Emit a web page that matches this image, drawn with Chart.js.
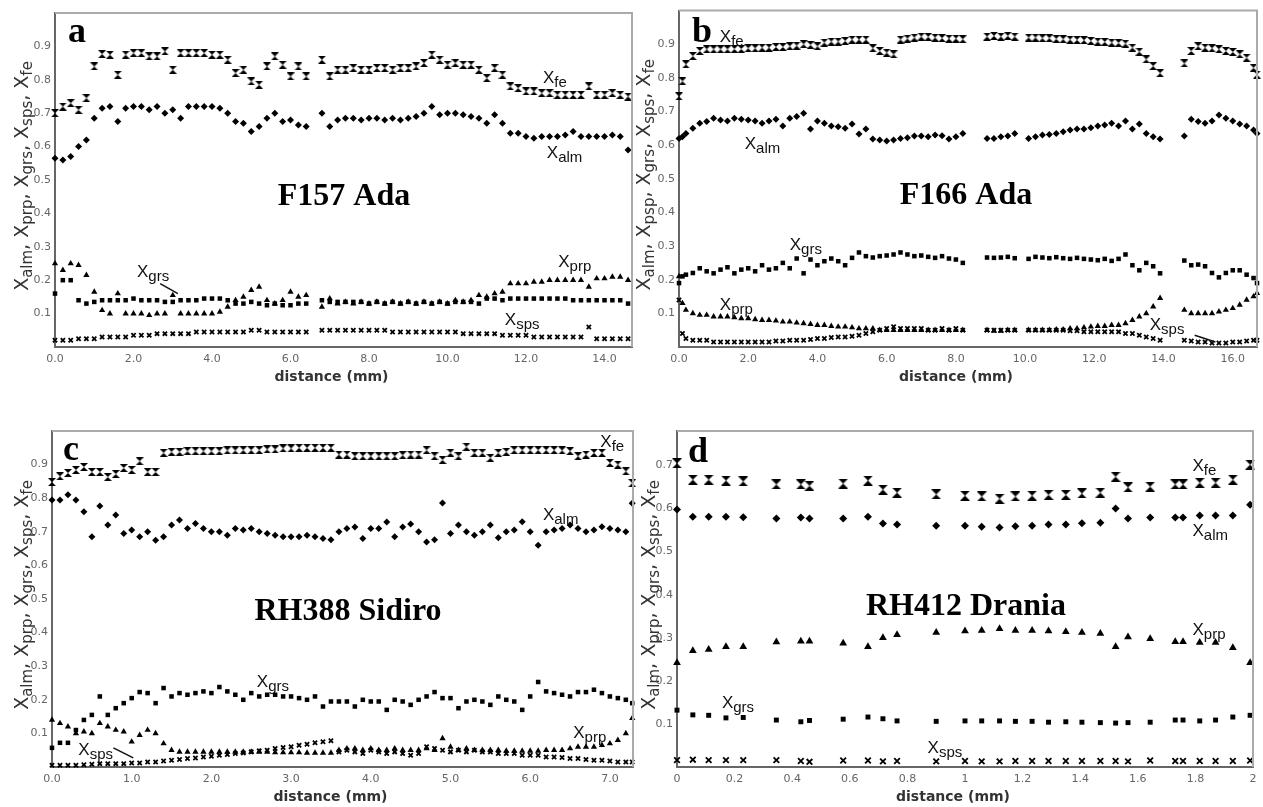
<!DOCTYPE html>
<html>
<head>
<meta charset="utf-8">
<script src="https://cdn.jsdelivr.net/npm/chart.js"></script>
<style>
  body { margin: 0; background: #fff; }
  canvas { position: absolute; left: 0; top: 0; }
</style>
</head>
<body>
<canvas id="pa" width="1263" height="807"></canvas>
<canvas id="pb" width="1263" height="807"></canvas>
<canvas id="pc" width="1263" height="807"></canvas>
<canvas id="pd" width="1263" height="807"></canvas>
<script>
// ---- panel a: F157 Ada ----
const aDist = [0.0,0.2,0.4,0.6,0.8,1.0,1.2,1.4,1.6,1.8,2.0,2.2,2.4,2.6,2.8,3.0,3.2,3.4,3.6,3.8,4.0,4.2,4.4,4.6,4.8,5.0,5.2,5.4,5.6,5.8,6.0,6.2,6.4,
  6.8,7.0,7.2,7.4,7.6,7.8,8.0,8.2,8.4,8.6,8.8,9.0,9.2,9.4,9.6,9.8,10.0,10.2,10.4,10.6,10.8,11.0,11.2,11.4,11.6,11.8,12.0,12.2,12.4,12.6,12.8,13.0,13.2,13.4,13.6,13.8,14.0,14.2,14.4,14.6];
const aFe = [.70,.72,.73,.71,.745,.84,.877,.875,.815,.875,.88,.88,.87,.87,.885,.83,.88,.88,.88,.88,.875,.875,.86,.82,.83,.795,.785,.84,.87,.845,.81,.84,.81,
  .86,.81,.83,.83,.835,.83,.83,.835,.835,.83,.835,.835,.84,.85,.875,.86,.845,.85,.845,.845,.83,.805,.835,.815,.78,.775,.765,.765,.76,.76,.755,.755,.755,.755,.78,.755,.755,.76,.755,.75];
const aAlm = [.565,.56,.57,.60,.62,.685,.715,.72,.675,.715,.72,.72,.71,.72,.70,.71,.685,.72,.72,.72,.72,.715,.70,.675,.67,.645,.66,.685,.70,.675,.68,.665,.66,
  .70,.66,.68,.685,.685,.68,.685,.685,.68,.685,.68,.685,.69,.70,.72,.695,.70,.70,.695,.69,.685,.67,.695,.67,.64,.64,.63,.625,.63,.63,.63,.635,.645,.63,.63,.63,.63,.635,.63,.59];
const aGrs = [.16,.20,.20,.14,.13,.135,.14,.14,.14,.14,.145,.14,.14,.14,.135,.135,.14,.14,.14,.145,.145,.145,.14,.13,.13,.135,.13,.125,.13,.125,.125,.13,.13,
  .14,.135,.135,.135,.135,.135,.13,.135,.13,.135,.13,.135,.13,.135,.13,.135,.13,.135,.135,.135,.13,.145,.145,.14,.145,.145,.145,.145,.145,.145,.145,.145,.14,.14,.14,.14,.14,.14,.14,.13];
const aPrp = [.25,.23,.25,.245,.215,.165,.11,.10,.16,.10,.10,.10,.095,.10,.10,.155,.10,.10,.10,.10,.10,.105,.12,.14,.15,.17,.18,.14,.13,.14,.165,.15,.155,
  .12,.145,.13,.135,.13,.135,.13,.135,.13,.135,.13,.135,.13,.135,.13,.135,.13,.14,.135,.14,.155,.15,.16,.165,.19,.19,.19,.195,.195,.20,.20,.20,.20,.20,.18,.205,.205,.21,.21,.20];
const aSps = [.02,.02,.02,.025,.025,.025,.03,.03,.03,.03,.035,.035,.035,.04,.04,.04,.04,.04,.045,.045,.045,.045,.045,.045,.045,.05,.05,.045,.045,.045,.045,.045,.045,
  .05,.05,.05,.05,.05,.05,.05,.05,.05,.045,.045,.045,.045,.045,.045,.045,.045,.045,.04,.04,.04,.04,.04,.035,.035,.035,.035,.03,.03,.03,.03,.03,.03,.03,.06,.025,.025,.025,.025,.025];

// ---- panel b: F166 Ada ----
const bDist = [0.0,0.1,0.2,0.4,0.6,0.8,1.0,1.2,1.4,1.6,1.8,2.0,2.2,2.4,2.6,2.8,3.0,3.2,3.4,3.6,3.8,4.0,4.2,4.4,4.6,4.8,5.0,5.2,5.4,5.6,5.8,6.0,6.2,6.4,6.6,6.8,7.0,7.2,7.4,7.6,7.8,8.0,8.2,
  8.9,9.1,9.3,9.5,9.7,
  10.1,10.3,10.5,10.7,10.9,11.1,11.3,11.5,11.7,11.9,12.1,12.3,12.5,12.7,12.9,13.1,13.3,13.5,13.7,13.9,
  14.6,14.8,15.0,15.2,15.4,15.6,15.8,16.0,16.2,16.4,16.6,16.7];
const bFe = [.745,.79,.84,.865,.88,.885,.885,.885,.885,.886,.886,.888,.888,.89,.89,.892,.892,.894,.896,.90,.898,.894,.905,.908,.908,.91,.914,.914,.914,.888,.88,.875,.87,.914,.917,.92,.923,.922,.92,.918,.917,.917,.915,
  .923,.925,.923,.925,.923,
  .92,.92,.918,.918,.916,.915,.914,.913,.912,.91,.908,.907,.905,.904,.902,.89,.878,.855,.835,.814,
  .843,.88,.894,.89,.888,.885,.88,.877,.87,.86,.83,.81];
const bAlm = [.62,.625,.635,.65,.665,.67,.68,.675,.672,.68,.677,.675,.672,.665,.672,.677,.657,.68,.685,.695,.648,.672,.665,.657,.655,.65,.663,.633,.648,.618,.615,.612,.615,.62,.622,.627,.627,.625,.63,.628,.618,.625,.635,
  .62,.62,.625,.627,.635,
  .62,.625,.63,.632,.635,.64,.645,.648,.648,.652,.657,.66,.665,.657,.672,.648,.663,.635,.625,.618,
  .627,.677,.67,.665,.672,.69,.68,.672,.663,.657,.645,.635];
const bGrs = [.19,.21,.215,.22,.234,.225,.219,.23,.237,.219,.23,.234,.225,.243,.23,.234,.25,.234,.263,.219,.26,.243,.255,.263,.255,.243,.265,.281,.27,.266,.27,.272,.275,.281,.275,.27,.272,.268,.265,.27,.263,.26,.25,
  .266,.265,.266,.268,.264,
  .262,.268,.266,.264,.267,.264,.262,.265,.262,.26,.258,.262,.256,.262,.275,.243,.228,.25,.24,.219,
  .257,.243,.245,.24,.22,.207,.22,.228,.228,.215,.205,.19];
const bPrp = [.21,.13,.11,.10,.095,.095,.09,.09,.09,.088,.085,.085,.082,.08,.08,.078,.075,.075,.072,.07,.068,.065,.065,.062,.06,.06,.058,.055,.055,.055,.05,.05,.05,.05,.05,.05,.05,.05,.05,.05,.05,.05,.05,
  .05,.048,.048,.05,.05,
  .05,.05,.05,.05,.052,.052,.055,.055,.058,.06,.062,.062,.065,.065,.07,.08,.09,.10,.12,.145,
  .11,.10,.10,.10,.10,.105,.11,.115,.125,.14,.15,.16];
const bSps = [.14,.04,.025,.02,.02,.02,.015,.015,.015,.015,.015,.015,.015,.015,.015,.018,.018,.02,.02,.02,.022,.025,.025,.028,.03,.03,.032,.035,.04,.045,.05,.055,.06,.055,.055,.055,.055,.05,.05,.055,.05,.055,.05,
  .05,.05,.05,.05,.05,
  .05,.05,.05,.05,.05,.05,.048,.048,.045,.045,.045,.045,.045,.045,.04,.04,.035,.03,.025,.02,
  .02,.018,.015,.015,.012,.012,.012,.015,.015,.018,.02,.02];

// ---- panel c: RH388 Sidiro ----
const cDist = [0.0,0.1,0.2,0.3,0.4,0.5,0.6,0.7,0.8,0.9,1.0,1.1,1.2,1.3,1.4,1.5,1.6,1.7,1.8,1.9,2.0,2.1,2.2,2.3,2.4,2.5,2.6,2.7,2.8,2.9,3.0,3.1,3.2,3.3,3.4,3.5,3.6,3.7,
  3.8,3.9,4.0,4.1,4.2,4.3,4.4,4.5,4.6,4.7,4.8,4.9,5.0,5.1,5.2,5.3,5.4,5.5,5.6,5.7,5.8,5.9,6.0,6.1,6.2,6.3,6.4,6.5,6.6,6.7,6.8,6.9,7.0,7.1,7.2,7.28];
const cFe = [.848,.865,.875,.884,.893,.878,.878,.863,.872,.89,.884,.91,.878,.878,.935,.938,.938,.94,.94,.94,.94,.94,.942,.942,.943,.943,.943,.945,.945,.948,.948,.95,.95,.95,.95,.95,.93,.93,
  .925,.925,.925,.925,.925,.925,.928,.93,.93,.943,.925,.914,.935,.925,.953,.935,.935,.92,.935,.938,.943,.943,.943,.943,.943,.943,.942,.94,.925,.93,.935,.935,.905,.90,.88,.845];
const cAlm = [.795,.795,.81,.795,.76,.685,.777,.72,.75,.695,.705,.685,.70,.675,.685,.72,.735,.71,.725,.71,.70,.70,.69,.71,.705,.71,.70,.695,.69,.685,.685,.685,.69,.685,.68,.676,.70,.71,
  .714,.68,.71,.71,.729,.685,.714,.723,.70,.67,.676,.786,.695,.72,.70,.69,.70,.72,.682,.70,.705,.73,.70,.66,.70,.705,.71,.72,.71,.70,.705,.715,.71,.705,.70,.785];
const cGrs = [.057,.072,.072,.11,.14,.155,.21,.155,.175,.19,.205,.223,.22,.19,.235,.21,.22,.215,.22,.225,.22,.238,.225,.215,.20,.22,.21,.215,.215,.21,.21,.205,.20,.21,.18,.195,.195,.195,
  .18,.20,.195,.195,.17,.20,.195,.185,.20,.21,.223,.205,.205,.175,.195,.20,.195,.185,.21,.20,.195,.17,.21,.253,.225,.22,.215,.21,.223,.223,.23,.22,.21,.205,.20,.19];
const cPrp = [.14,.13,.12,.10,.105,.10,.13,.12,.11,.105,.075,.095,.11,.10,.07,.05,.045,.045,.045,.045,.045,.045,.045,.045,.045,.045,.045,.045,.043,.043,.043,.043,.042,.042,.042,.042,.05,.055,
  .055,.05,.055,.05,.05,.055,.05,.05,.05,.055,.05,.085,.06,.05,.055,.05,.05,.05,.05,.048,.048,.048,.048,.048,.05,.05,.05,.055,.06,.06,.06,.065,.07,.08,.10,.145];
const cSps = [.005,.005,.005,.005,.007,.008,.01,.01,.01,.01,.012,.012,.015,.015,.018,.02,.022,.025,.027,.03,.032,.035,.037,.04,.042,.045,.048,.05,.055,.058,.06,.065,.068,.072,.075,.078,.045,.05,
  .045,.04,.05,.045,.04,.045,.04,.035,.04,.06,.055,.05,.045,.05,.045,.05,.045,.045,.04,.04,.04,.035,.035,.035,.03,.03,.028,.025,.025,.022,.02,.02,.018,.015,.015,.015];

// ---- panel d: RH412 Drania ----
const dDist = [0,0.055,0.11,0.17,0.23,0.345,0.43,0.46,0.577,0.663,0.715,0.764,0.9,1.0,1.058,1.12,1.175,1.233,1.29,1.35,1.406,1.47,1.523,1.566,1.643,1.73,1.757,1.815,1.87,1.93,1.99];
const dFe = [.705,.667,.667,.665,.663,.656,.656,.653,.658,.665,.644,.637,.633,.63,.628,.623,.628,.63,.632,.632,.635,.637,.674,.649,.651,.656,.656,.66,.66,.667,.702];
const dAlm = [.598,.581,.581,.581,.58,.577,.579,.577,.577,.581,.565,.563,.56,.56,.558,.556,.559,.56,.563,.563,.566,.567,.60,.577,.579,.579,.579,.584,.584,.584,.609];
const dPrp = [.242,.27,.273,.279,.279,.29,.292,.292,.287,.279,.30,.307,.312,.316,.317,.321,.317,.317,.316,.314,.312,.31,.279,.302,.298,.291,.291,.289,.289,.277,.242];
const dGrs = [.132,.121,.12,.114,.115,.109,.105,.108,.111,.116,.112,.107,.106,.107,.107,.107,.106,.106,.104,.105,.104,.103,.102,.103,.104,.109,.109,.107,.109,.116,.12];
const dSps = [.016,.017,.016,.016,.016,.016,.014,.012,.015,.015,.013,.014,.013,.014,.013,.013,.014,.014,.014,.014,.014,.014,.014,.013,.015,.014,.014,.014,.014,.014,.015];

const yTitleA = ['alm', 'prp', 'grs', 'sps', 'fe'];
const yTitleB = ['alm', 'psp', 'grs', 'sps', 'fe'];

// hourglass marker used for Xfe
function hourglass(s) {
  const c = document.createElement('canvas');
  c.width = s; c.height = s;
  const g = c.getContext('2d');
  g.fillStyle = '#000';
  g.beginPath();
  g.moveTo(0, 0); g.lineTo(s, 0); g.lineTo(0, s); g.lineTo(s, s); g.closePath();
  g.fill();
  return c;
}

const pts = (xs, ys) => xs.map((x, i) => ({ x: x, y: ys[i] }));

function drawX(ctx, x, y, sub, big, small, drop) {
  ctx.font = big + 'px "Liberation Sans"';
  ctx.fillText('X', x, y);
  const w = ctx.measureText('X').width;
  ctx.font = small + 'px "Liberation Sans"';
  ctx.fillText(sub, x + w, y + drop);
}

function drawYTitle(ctx, xBase, yMid, subs) {
  const big = '19px "DejaVu Sans"', small = '15px "DejaVu Sans"';
  const pieces = [];
  subs.forEach((s, i) => {
    pieces.push(['X', big, 0]);
    pieces.push([s, small, 4]);
    if (i < subs.length - 1) pieces.push([', ', big, 0]);
  });
  let total = 0;
  pieces.forEach(pc => { ctx.font = pc[1]; pc.push(ctx.measureText(pc[0]).width); total += pc[3]; });
  ctx.save();
  ctx.translate(xBase, yMid);
  ctx.rotate(-Math.PI / 2);
  ctx.textAlign = 'left';
  let pos = -total / 2;
  pieces.forEach(pc => { ctx.font = pc[1]; ctx.fillText(pc[0], pos, pc[2]); pos += pc[3]; });
  ctx.restore();
}

function textPlugin(p) {
  return {
    id: 'panelText',
    afterDraw(chart) {
      const ctx = chart.ctx, ca = chart.chartArea;
      const sx = chart.scales.x, sy = chart.scales.y;
      ctx.save();
      // frame top / right
      ctx.strokeStyle = '#aaa';
      ctx.lineWidth = 2;
      ctx.beginPath();
      ctx.moveTo(ca.left, ca.top); ctx.lineTo(ca.right, ca.top); ctx.lineTo(ca.right, ca.bottom);
      ctx.stroke();

      ctx.fillStyle = '#000';
      ctx.textBaseline = 'alphabetic';
      ctx.textAlign = 'left';
      ctx.font = 'bold 36px "Liberation Serif"';
      ctx.fillText(p.letter, p.letterPos[0], p.letterPos[1]);
      ctx.textAlign = 'center';
      ctx.font = 'bold 32px "Liberation Serif"';
      ctx.fillText(p.name, p.namePos[0], p.namePos[1]);

      // series labels
      ctx.textAlign = 'left';
      ctx.fillStyle = '#111';
      p.notes.forEach(n => {
        drawX(ctx, sx.getPixelForValue(n[0]), sy.getPixelForValue(n[1]), n[2], 17, 15, 4);
      });
      ctx.strokeStyle = '#111';
      ctx.lineWidth = 1.5;
      p.leaders.forEach(l => {
        ctx.beginPath();
        ctx.moveTo(sx.getPixelForValue(l[0]), sy.getPixelForValue(l[1]));
        ctx.lineTo(sx.getPixelForValue(l[2]), sy.getPixelForValue(l[3]));
        ctx.stroke();
      });

      // axis titles
      ctx.fillStyle = '#333';
      drawYTitle(ctx, ca.left - p.yGap, (ca.top + ca.bottom) / 2 - 4, p.yTitle);
      ctx.textAlign = 'center';
      ctx.textBaseline = 'middle';
      ctx.font = 'bold 14px "DejaVu Sans"';
      ctx.fillText('distance (mm)', (ca.left + ca.right) / 2 - 12, ca.bottom + 30);
      ctx.restore();
    }
  };
}

function makePanel(id, p) {
  const yW = 50, xH = 40;
  const big = p.big;
  const base = { backgroundColor: '#000', borderColor: '#000', clip: false };
  const sets = [
    Object.assign({ label: 'Xfe', data: pts(p.dist, p.fe), pointStyle: hourglass(big ? 10 : 8), pointRadius: 4 }, base),
    Object.assign({ label: 'Xalm', data: pts(p.dist, p.alm), pointStyle: 'rectRot', pointRadius: big ? 4 : 3.5, borderWidth: 0 }, base),
    Object.assign({ label: 'Xgrs', data: pts(p.dist, p.grs), pointStyle: 'rect', pointRadius: big ? 3.5 : 3.2, borderWidth: 0 }, base),
    Object.assign({ label: 'Xprp', data: pts(p.dist, p.prp), pointStyle: 'triangle', pointRadius: big ? 4.5 : 3.6, borderWidth: 0 }, base),
    Object.assign({ label: 'Xsps', data: pts(p.dist, p.sps), pointStyle: 'crossRot', pointRadius: big ? 4 : 3, borderWidth: 1.8 }, base)
  ];
  const tickFont = { family: 'DejaVu Sans', size: 11 };
  new Chart(document.getElementById(id), {
    type: 'scatter',
    data: { datasets: sets },
    options: {
      responsive: false,
      animation: false,
      events: [],
      layout: { padding: { left: p.box[0] - yW, top: p.box[1], right: 1263 - p.box[2], bottom: 807 - p.box[3] - xH } },
      plugins: { legend: { display: false }, tooltip: { enabled: false } },
      scales: {
        x: {
          type: 'linear', min: 0, max: p.xMax,
          afterFit: s => { s.height = xH; },
          grid: { display: false, drawTicks: false },
          border: { display: true, color: '#666', width: 2 },
          ticks: { stepSize: p.xStep, includeBounds: false, autoSkip: false, maxRotation: 0, padding: 6,
                   color: '#666', font: tickFont, callback: p.xFmt }
        },
        y: {
          type: 'linear', min: 0, max: p.yMax,
          afterFit: s => { s.width = yW; },
          grid: { display: false, drawTicks: false },
          border: { display: true, color: '#666', width: 2 },
          ticks: { stepSize: 0.1, includeBounds: false, autoSkip: false, padding: 4,
                   color: '#666', font: tickFont,
                   callback: v => (v > 0.001 && v < 0.999) ? v.toFixed(1) : '' }
        }
      }
    },
    plugins: [textPlugin(p)]
  });
}

const fmt1 = v => v.toFixed(1);
const fmtD = v => String(+v.toFixed(1));

makePanel('pa', {
  dist: aDist, fe: aFe, alm: aAlm, grs: aGrs, prp: aPrp, sps: aSps,
  box: [55, 13, 632, 347], xMax: 14.7, xStep: 2, yMax: 1, xFmt: fmt1, big: false,
  letter: 'a', letterPos: [68, 42], name: 'F157 Ada', namePos: [344, 205],
  yTitle: yTitleA, yGap: 27,
  notes: [[12.43, 0.79, 'fe'], [12.53, 0.566, 'alm'], [12.82, 0.24, 'prp'], [2.09, 0.21, 'grs'], [11.46, 0.065, 'sps']],
  leaders: [[2.68, 0.19, 3.13, 0.16]]
});
makePanel('pb', {
  dist: bDist, fe: bFe, alm: bAlm, grs: bGrs, prp: bPrp, sps: bSps,
  box: [679, 9, 1257, 347], xMax: 16.7, xStep: 2, yMax: 1, xFmt: fmt1, big: false,
  letter: 'b', letterPos: [692, 42], name: 'F166 Ada', namePos: [966, 204],
  yTitle: yTitleB, yGap: 29,
  notes: [[1.18, 0.908, 'fe'], [1.9, 0.59, 'alm'], [3.2, 0.287, 'grs'], [1.18, 0.11, 'prp'], [13.6, 0.05, 'sps']],
  leaders: [[14.9, 0.035, 15.5, 0.015]]
});
makePanel('pc', {
  dist: cDist, fe: cFe, alm: cAlm, grs: cGrs, prp: cPrp, sps: cSps,
  box: [52, 431, 633, 767], xMax: 7.29, xStep: 1, yMax: 1, xFmt: fmt1, big: false,
  letter: 'c', letterPos: [63, 460], name: 'RH388 Sidiro', namePos: [348, 620],
  yTitle: yTitleA, yGap: 24,
  notes: [[6.88, 0.952, 'fe'], [6.16, 0.735, 'alm'], [2.57, 0.238, 'grs'], [6.54, 0.086, 'prp'], [0.33, 0.036, 'sps']],
  leaders: [[0.77, 0.057, 1.02, 0.027]]
});
makePanel('pd', {
  dist: dDist, fe: dFe, alm: dAlm, grs: dGrs, prp: dPrp, sps: dSps,
  box: [677, 431, 1253, 767], xMax: 2, xStep: 0.2, yMax: 0.78, xFmt: fmtD, big: true,
  letter: 'd', letterPos: [688, 462], name: 'RH412 Drania', namePos: [966, 615],
  yTitle: yTitleA, yGap: 22,
  notes: [[1.79, 0.688, 'fe'], [1.79, 0.537, 'alm'], [1.79, 0.307, 'prp'], [0.156, 0.137, 'grs'], [0.87, 0.033, 'sps']],
  leaders: []
});
</script>
</body>
</html>
